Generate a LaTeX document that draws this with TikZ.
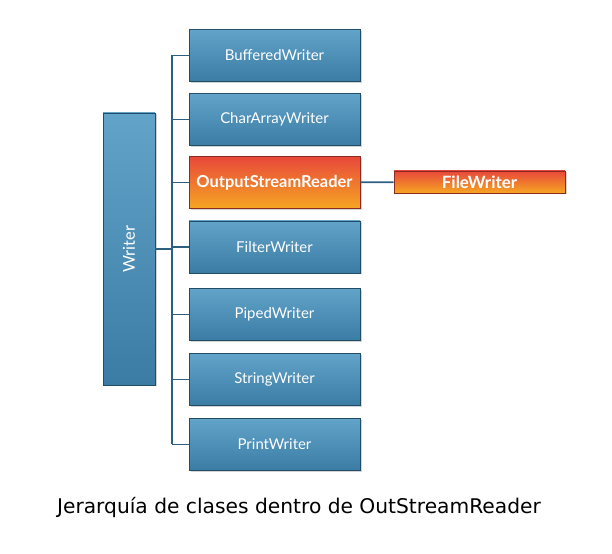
\documentclass[tikz,border=0pt]{standalone}
\usepackage{fontspec}
\setmainfont{Lato}
\newfontfamily\pie{DejaVu Sans}
\usetikzlibrary{shadows}
\definecolor{azulA}{HTML}{62A3CA}
\definecolor{azulB}{HTML}{3A7CA3}
\definecolor{azulL}{HTML}{2C5F80}
\definecolor{rojoA}{HTML}{E8483A}
\definecolor{rojoB}{HTML}{F6A623}
\tikzset{
  caja/.style={draw=azulL!80!black, line width=0.6bp, top color=azulA, bottom color=azulB,
    text=white, font=\fontsize{15}{17}\selectfont, minimum width=171bp, minimum height=52bp,
    inner sep=0pt, drop shadow={opacity=0.35, shadow xshift=1.5bp, shadow yshift=-1.5bp}},
  naranja/.style={caja, draw=rojoA!60!black, top color=rojoA, bottom color=rojoB,
    font=\bfseries\fontsize{16.5}{18}\selectfont},
  rama/.style={draw=azulL, line width=1.6bp}
}
\begin{document}
\begin{tikzpicture}[x=1bp,y=1bp]
                \useasboundingbox (0,0) rectangle (612,554);

                \node[caja, minimum width=52bp, minimum height=272bp, font=\fontsize{16.5}{18}\selectfont] (A) at (129,305) {\rotatebox{90}{Writer}};

                \node[caja] (B) at (274.5,498.5) {BufferedWriter};
                \node[caja] (C) at (274.5,434.5) {CharArrayWriter};
                \node[naranja] (D) at (274.5,371.5) {OutputStreamReader};
                \node[caja] (E) at (274.5,307) {FilterWriter};
                \node[caja] (F) at (274.5,239.5) {PipedWriter};
                \node[caja] (G) at (274.5,174.5) {StringWriter};
                \node[caja] (H) at (274.5,109.5) {PrintWriter};

                \node[naranja, minimum height=22bp, font=\bfseries\fontsize{17}{18}\selectfont] (I) at (479.5,372) {FileWriter};

                % tronco
                \coordinate (P) at (172,498.5);
                \coordinate (Q) at (172,109.5);
                \draw[rama] (P)--(Q);
                \draw[rama] (A.east)--(A -| P);
                \foreach \n in {B,C,D,E,F,G,H}
                  \draw[rama] (\n.west)--(\n -| P);
                \draw[rama] (D)--(I);

                \node[font=\pie\fontsize{20.3}{22}\selectfont] (T) at (299,46) {Jerarquía de clases dentro de OutStreamReader};
            \end{tikzpicture}
\end{document}
